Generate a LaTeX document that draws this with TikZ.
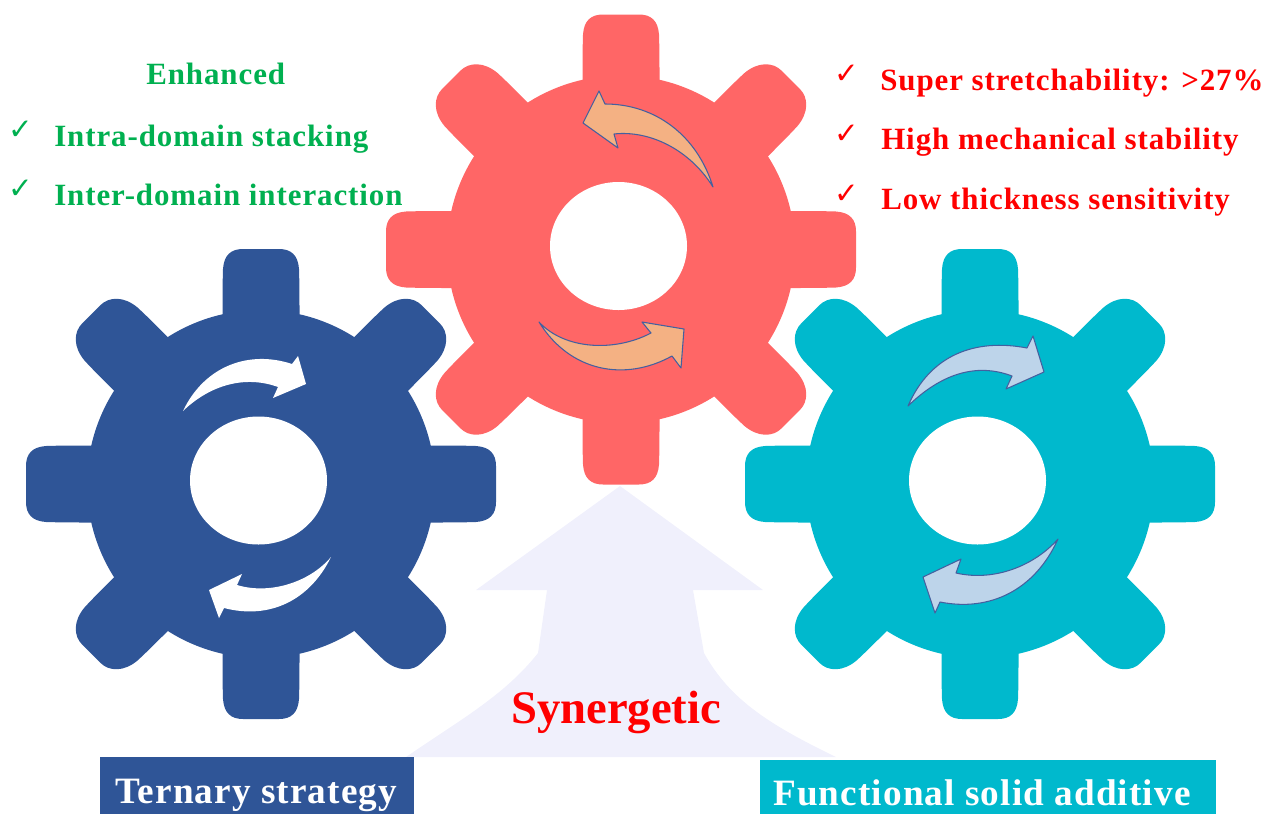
\documentclass[tikz,border=0pt]{standalone}
\usepackage{fontspec}
\setmainfont{Liberation Serif}
\newfontfamily\checkfont{DejaVu Sans}
\definecolor{gearblue}{HTML}{2F5597}
\definecolor{gearred}{HTML}{FF6666}
\definecolor{gearteal}{HTML}{00B9CD}
\definecolor{palearrow}{HTML}{F0F0FC}
\definecolor{txtgreen}{HTML}{00B050}
\definecolor{peach}{HTML}{F4B183}
\definecolor{iceblue}{HTML}{BDD4EA}
\definecolor{arrowline}{HTML}{44609F}
\tikzset{
  label text/.style={anchor=base west,inner sep=0pt},
  small label/.style={label text,font=\bfseries\addfontfeatures{LetterSpace=3}\fontsize{23.2}{23.2}\selectfont},
  box label/.style={label text,text=white,font=\bfseries\addfontfeatures{LetterSpace=3}\fontsize{27.9}{27.9}\selectfont},
  check mark/.style={anchor=center,inner sep=0pt,font=\checkfont\fontsize{22}{22}\selectfont},
  outlined arrow/.style={draw=arrowline,line width=0.8pt,line join=round}
}
\newcommand{\straighttooth}{(-38,-150) -- (-38.5,-170) .. controls (-38.5,-185) and (-38.5,-200) .. (-38,-215) .. controls (-37,-229) and (-30,-235) .. (-18,-235) -- (18,-235) .. controls (30,-235) and (37,-229) .. (38,-215) .. controls (38.5,-200) and (38.5,-185) .. (38.5,-170) -- (38,-150) -- cycle}
\newcommand{\slanttooth}{(-38,-150) -- (-38,-172) .. controls (-38,-185) and (-38,-200) .. (-37.5,-212) .. controls (-36,-230) and (-25,-240) .. (-13,-240) -- (13,-240) .. controls (25,-240) and (36,-230) .. (37.5,-212) .. controls (38,-200) and (38,-185) .. (38,-172) -- (38,-150) -- cycle}
\newcommand{\drawgear}[3]{%
  \begin{scope}[shift={(#1,#2)}]
    \fill[#3] (0,0) circle[radius=174];
    \foreach \a in {0,90,180,270}{\fill[#3,rotate=\a] \straighttooth;}
    \foreach \a in {45,135,225,315}{\fill[#3,rotate=\a] \slanttooth;}
    \fill[white] (-2.5,-3.5) ellipse[x radius=68.5,y radius=64];
  \end{scope}}
\begin{document}
\begin{tikzpicture}[x=0.75pt,y=-0.75pt]
\useasboundingbox (0,0) rectangle (1266,814);
% big arrow
\fill[palearrow] (620,486) -- (763,590) -- (693,590) -- (704,653)
  .. controls (730,700) and (770,725) .. (836,757) -- (406,757)
  .. controls (460,720) and (505,695) .. (538,653)
  -- (547,590) -- (476,590) -- cycle;
% gears
\drawgear{261}{484}{gearblue}
\drawgear{621}{249.5}{gearred}
\drawgear{980}{484}{gearteal}
% blue gear arrows
\fill[white] (183,411) .. controls (205,365) and (250,350) .. (292,364)
  -- (298,356) -- (306,384) -- (273,398) -- (278,387)
  .. controls (245,375) and (210,385) .. (183,411) -- cycle;
\fill[white] (331,557) .. controls (310,600) and (270,620) .. (224,608)
  -- (219,618) -- (209,590) -- (242,574) -- (237,585)
  .. controls (270,595) and (310,582) .. (331,557) -- cycle;
% red gear arrows
\draw[outlined arrow,fill=peach] (713,187) .. controls (697,135) and (655,104) .. (605,104)
  -- (599,91) -- (583,123) -- (618,148) -- (614,134)
  .. controls (650,130) and (690,150) .. (713,187) -- cycle;
\draw[outlined arrow,fill=peach] (539,322) .. controls (565,350) and (615,352) .. (651,333)
  -- (642,322) -- (684,329) -- (681,368) -- (672,356)
  .. controls (625,382) and (570,372) .. (539,322) -- cycle;
% teal gear arrows
\draw[outlined arrow,fill=iceblue] (908,406) .. controls (930,355) and (975,338) .. (1027,348)
  -- (1033,336) -- (1044,372) -- (1006,389) -- (1012,376)
  .. controls (975,362) and (940,375) .. (908,406) -- cycle;
\draw[outlined arrow,fill=iceblue] (1058,539) .. controls (1035,590) and (990,612) .. (940,602)
  -- (935,613) -- (923,577) -- (961,559) -- (956,573)
  .. controls (995,582) and (1035,565) .. (1058,539) -- cycle;
% bottom boxes
\fill[gearblue] (100,757) rectangle (414,814);
\fill[gearteal] (760,760) rectangle (1216,814);
% texts
\node[box label] (ternary) at (115,803) {Ternary strategy};
\node[box label] (functional) at (773,805) {Functional solid additive};
\node[label text,text=red,font=\bfseries\fontsize{35}{35}\selectfont] (synergetic) at (511,723) {Synergetic};
\node[small label,text=txtgreen] (enhanced) at (146,84) {Enhanced};
\node[small label,text=txtgreen] (intra) at (54,146) {Intra-domain stacking};
\node[small label,text=txtgreen] (inter) at (54,205) {Inter-domain interaction};
\node[small label,text=red] (super) at (880,90) {Super stretchability: >27\%};
\node[small label,text=red] (high) at (881,149) {High mechanical stability};
\node[small label,text=red] (low) at (881,209) {Low thickness sensitivity};
\node[check mark,text=txtgreen] (c1) at (21,130) {✓};
\node[check mark,text=txtgreen] (c2) at (21,189) {✓};
\node[check mark,text=red] (c3) at (847,74) {✓};
\node[check mark,text=red] (c4) at (847,134) {✓};
\node[check mark,text=red] (c5) at (847,194) {✓};
\end{tikzpicture}
\end{document}
